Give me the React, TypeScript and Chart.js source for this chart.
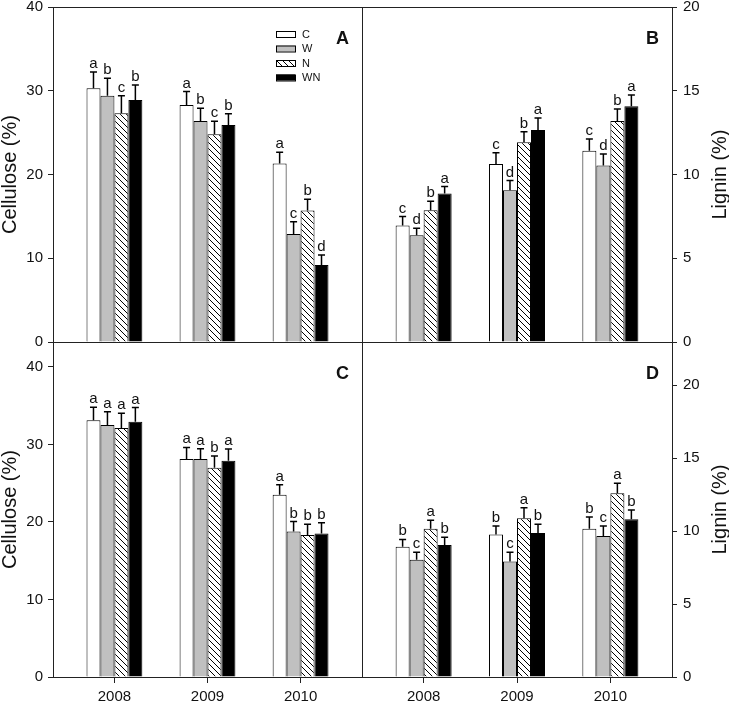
import React, { useEffect, useRef } from 'react';
import { Chart, registerables } from 'chart.js';

Chart.register(...registerables);

// ---------- data ----------
const years = ['2008', '2009', '2010'];
const treatments = ['C', 'W', 'N', 'WN'];

// Panel A: Cellulose (%) – rows: C, W, N, WN ; columns: 2008, 2009, 2010
const valuesA = [
  [30.3, 28.3, 21.3],
  [29.4, 26.4, 12.9],
  [27.3, 24.8, 15.7],
  [28.9, 25.9, 9.2],
];
const errorsA = [
  [1.95, 1.6, 1.35],
  [2.1, 1.5, 1.45],
  [2.1, 1.55, 1.35],
  [1.8, 1.35, 1.2],
];
const lettersA = [
  ['a', 'a', 'a'],
  ['b', 'b', 'c'],
  ['c', 'c', 'b'],
  ['b', 'b', 'd'],
];

// Panel B: Lignin (%)
const valuesB = [
  [6.96, 10.62, 11.42],
  [6.37, 9.06, 10.54],
  [7.86, 11.93, 13.19],
  [8.86, 12.65, 14.07],
];
const errorsB = [
  [0.53, 0.68, 0.7],
  [0.42, 0.58, 0.68],
  [0.54, 0.62, 0.72],
  [0.42, 0.72, 0.68],
];
const lettersB = [
  ['c', 'c', 'c'],
  ['d', 'd', 'd'],
  ['b', 'b', 'b'],
  ['a', 'a', 'a'],
];

// Panel C: Cellulose (%)
const valuesC = [
  [33.1, 28.1, 23.5],
  [32.5, 28.1, 18.75],
  [32.1, 27.0, 18.3],
  [32.9, 27.9, 18.5],
];
const errorsC = [
  [1.7, 1.5, 1.3],
  [1.7, 1.35, 1.3],
  [1.9, 1.5, 1.4],
  [1.85, 1.5, 1.4],
];
const lettersC = [
  ['a', 'a', 'a'],
  ['a', 'a', 'b'],
  ['a', 'b', 'b'],
  ['a', 'a', 'b'],
];

// Panel D: Lignin (%)
const valuesD = [
  [8.92, 9.77, 10.16],
  [8.04, 7.92, 9.66],
  [10.16, 10.87, 12.58],
  [9.04, 9.86, 10.8],
];
const errorsD = [
  [0.5, 0.57, 0.8],
  [0.5, 0.62, 0.68],
  [0.57, 0.73, 0.69],
  [0.53, 0.6, 0.64],
];
const lettersD = [
  ['b', 'b', 'b'],
  ['c', 'c', 'c'],
  ['a', 'a', 'a'],
  ['b', 'b', 'b'],
];

const celluloseTicks = [0, 10, 20, 30, 40];
const ligninTicks = [0, 5, 10, 15, 20];

// ---------- styles ----------
const FONT = 'Arial, "Liberation Sans", Helvetica, sans-serif';
const LINE = '#222';
const TEXT = '#111';

function makeHatch(): CanvasPattern | string {
  const s = 6;
  const c = document.createElement('canvas');
  c.width = s;
  c.height = s;
  const g = c.getContext('2d');
  if (!g) return '#fff';
  g.fillStyle = '#fff';
  g.fillRect(0, 0, s, s);
  g.strokeStyle = '#000';
  g.lineWidth = 1;
  g.beginPath();
  g.moveTo(-1, -1);
  g.lineTo(s + 1, s + 1);
  g.moveTo(-1, s - 1);
  g.lineTo(1, s + 1);
  g.moveTo(s - 1, -1);
  g.lineTo(s + 1, 1);
  g.stroke();
  return g.createPattern(c, 'repeat') || '#fff';
}

type PanelProps = {
  values: number[][];
  errors: number[][];
  letters: string[][];
  yMax: number;
  yTicks: number[];
  yTitle: string;
  side: 'left' | 'right';
  showX: boolean;
  tag: string;
  legend: boolean;
  left: number;
  top: number;
  width: number;
  height: number;
  pad: { top: number; right: number; bottom: number; left: number };
  yWidth: number;
  xHeight: number;
  titleX: number;
};

function Panel(p: PanelProps) {
  const ref = useRef<HTMLCanvasElement | null>(null);

  useEffect(() => {
    const canvas = ref.current;
    if (!canvas) return;
    const hatch = makeHatch();
    const fills: any[] = ['#ffffff', '#c0c0c0', hatch, '#000000'];

    const overlay = {
      id: 'overlay',
      afterDatasetsDraw(chart: any) {
        const ctx = chart.ctx;
        const ys = chart.scales.y;
        ctx.save();
        ctx.strokeStyle = '#000';
        ctx.lineWidth = 1.5;
        ctx.fillStyle = TEXT;
        ctx.font = `15px ${FONT}`;
        ctx.textAlign = 'center';
        ctx.textBaseline = 'alphabetic';
        p.values.forEach((row, i) => {
          const meta = chart.getDatasetMeta(i);
          meta.data.forEach((bar: any, j: number) => {
            const yTop = ys.getPixelForValue(row[j] + p.errors[i][j]);
            ctx.beginPath();
            ctx.moveTo(bar.x, bar.y);
            ctx.lineTo(bar.x, yTop);
            ctx.moveTo(bar.x - 3.5, yTop);
            ctx.lineTo(bar.x + 3.5, yTop);
            ctx.stroke();
            ctx.fillText(p.letters[i][j], bar.x, yTop - 4);
          });
        });
        ctx.restore();
      },
      afterDraw(chart: any) {
        const ctx = chart.ctx;
        const a = chart.chartArea;
        ctx.save();
        // frame
        ctx.strokeStyle = LINE;
        ctx.lineWidth = 1;
        ctx.strokeRect(
          Math.round(a.left) + 0.5,
          Math.round(a.top) + 0.5,
          Math.round(a.right) - Math.round(a.left),
          Math.round(a.bottom) - Math.round(a.top)
        );
        // panel tag
        ctx.fillStyle = TEXT;
        ctx.font = `bold 18px ${FONT}`;
        ctx.textAlign = 'right';
        ctx.textBaseline = 'alphabetic';
        ctx.fillText(p.tag, a.right - 13, a.top + 37);
        // legend
        if (p.legend) {
          const bx = 276;
          const bw = 19;
          const bh = 6;
          const tops = [31, 45.5, 60, 74.5];
          ctx.font = `11px ${FONT}`;
          ctx.textAlign = 'left';
          ctx.textBaseline = 'middle';
          treatments.forEach((t, i) => {
            ctx.fillStyle = fills[i];
            ctx.fillRect(bx, tops[i], bw, bh);
            ctx.strokeStyle = '#000';
            ctx.lineWidth = 1;
            ctx.strokeRect(bx + 0.5, tops[i] + 0.5, bw, bh);
            ctx.fillStyle = TEXT;
            ctx.fillText(t, bx + bw + 7, tops[i] + bh / 2 + 0.5);
          });
        }
        // y title (reads bottom to top on both sides)
        ctx.translate(p.titleX, (a.top + a.bottom) / 2);
        ctx.rotate(-Math.PI / 2);
        ctx.font = `20px ${FONT}`;
        ctx.fillStyle = TEXT;
        ctx.textAlign = 'center';
        ctx.textBaseline = 'alphabetic';
        ctx.fillText(p.yTitle, 0, 0);
        ctx.restore();
      },
    };

    const x0 = Number(years[0]);
    const x1 = Number(years[years.length - 1]);

    const chart = new Chart(canvas, {
      type: 'bar',
      data: {
        labels: years,
        datasets: treatments.map((t, i) => ({
          label: t,
          data: p.values[i],
          backgroundColor: fills[i],
          borderColor: '#000',
          borderWidth: 1,
          categoryPercentage: 0.6,
          barPercentage: 1,
        })),
      },
      options: {
        animation: false,
        responsive: false,
        maintainAspectRatio: false,
        devicePixelRatio: 1,
        layout: { padding: p.pad },
        plugins: {
          legend: { display: false },
          tooltip: { enabled: false },
        },
        scales: {
          x: {
            type: 'linear',
            min: x0 - 0.66,
            max: x1 + 0.66,
            offset: false,
            display: p.showX,
            grid: { offset: false, drawOnChartArea: false, drawTicks: true, tickLength: 6, color: LINE },
            border: { display: true, color: LINE },
            ticks: {
              font: { size: 15, family: FONT },
              color: TEXT,
              padding: 5,
              maxRotation: 0,
              callback: (v: any) => String(v),
            },
            afterBuildTicks: (s: any) => {
              s.ticks = years.map((y) => ({ value: Number(y) }));
            },
            afterFit: (s: any) => {
              s.height = p.xHeight;
              s.paddingLeft = 0;
              s.paddingRight = 0;
              s.paddingTop = 0;
              s.paddingBottom = 0;
            },
          } as any,
          y: {
            type: 'linear',
            position: p.side,
            min: 0,
            max: p.yMax,
            grid: { drawOnChartArea: false, drawTicks: true, tickLength: 5, color: LINE },
            border: { display: true, color: LINE },
            ticks: {
              font: { size: 15, family: FONT },
              color: TEXT,
              padding: p.side === 'left' ? 5 : 6,
            },
            afterBuildTicks: (s: any) => {
              s.ticks = p.yTicks.map((v) => ({ value: v }));
            },
            afterFit: (s: any) => {
              s.width = p.yWidth;
              s.paddingLeft = 0;
              s.paddingRight = 0;
              s.paddingTop = 0;
              s.paddingBottom = 0;
            },
          } as any,
        },
      } as any,
      plugins: [overlay],
    });

    return () => chart.destroy();
  }, []);

  return (
    <canvas
      ref={ref}
      width={p.width}
      height={p.height}
      style={{ position: 'absolute', left: p.left, top: p.top, width: p.width, height: p.height }}
    />
  );
}

export default function App() {
  return (
    <div
      style={{
        position: 'fixed',
        left: 0,
        top: 0,
        width: 729,
        height: 703,
        background: '#fff',
        overflow: 'hidden',
      }}
    >
      <Panel
        values={valuesA}
        errors={errorsA}
        letters={lettersA}
        yMax={40}
        yTicks={celluloseTicks}
        yTitle="Cellulose (%)"
        side="left"
        showX={false}
        tag="A"
        legend={true}
        left={0}
        top={0}
        width={370}
        height={350}
        pad={{ top: 7, right: 8, bottom: 8, left: 0 }}
        yWidth={53}
        xHeight={0}
        titleX={16}
      />
      <Panel
        values={valuesB}
        errors={errorsB}
        letters={lettersB}
        yMax={20}
        yTicks={ligninTicks}
        yTitle="Lignin (%)"
        side="right"
        showX={false}
        tag="B"
        legend={false}
        left={355}
        top={0}
        width={374}
        height={350}
        pad={{ top: 7, right: 0, bottom: 8, left: 7 }}
        yWidth={57}
        xHeight={0}
        titleX={371}
      />
      <Panel
        values={valuesC}
        errors={errorsC}
        letters={lettersC}
        yMax={43.2}
        yTicks={celluloseTicks}
        yTitle="Cellulose (%)"
        side="left"
        showX={true}
        tag="C"
        legend={false}
        left={0}
        top={335}
        width={370}
        height={368}
        pad={{ top: 7, right: 8, bottom: 0, left: 0 }}
        yWidth={53}
        xHeight={26}
        titleX={16}
      />
      <Panel
        values={valuesD}
        errors={errorsD}
        letters={lettersD}
        yMax={22.95}
        yTicks={ligninTicks}
        yTitle="Lignin (%)"
        side="right"
        showX={true}
        tag="D"
        legend={false}
        left={355}
        top={335}
        width={374}
        height={368}
        pad={{ top: 7, right: 0, bottom: 0, left: 7 }}
        yWidth={57}
        xHeight={26}
        titleX={371}
      />
    </div>
  );
}
